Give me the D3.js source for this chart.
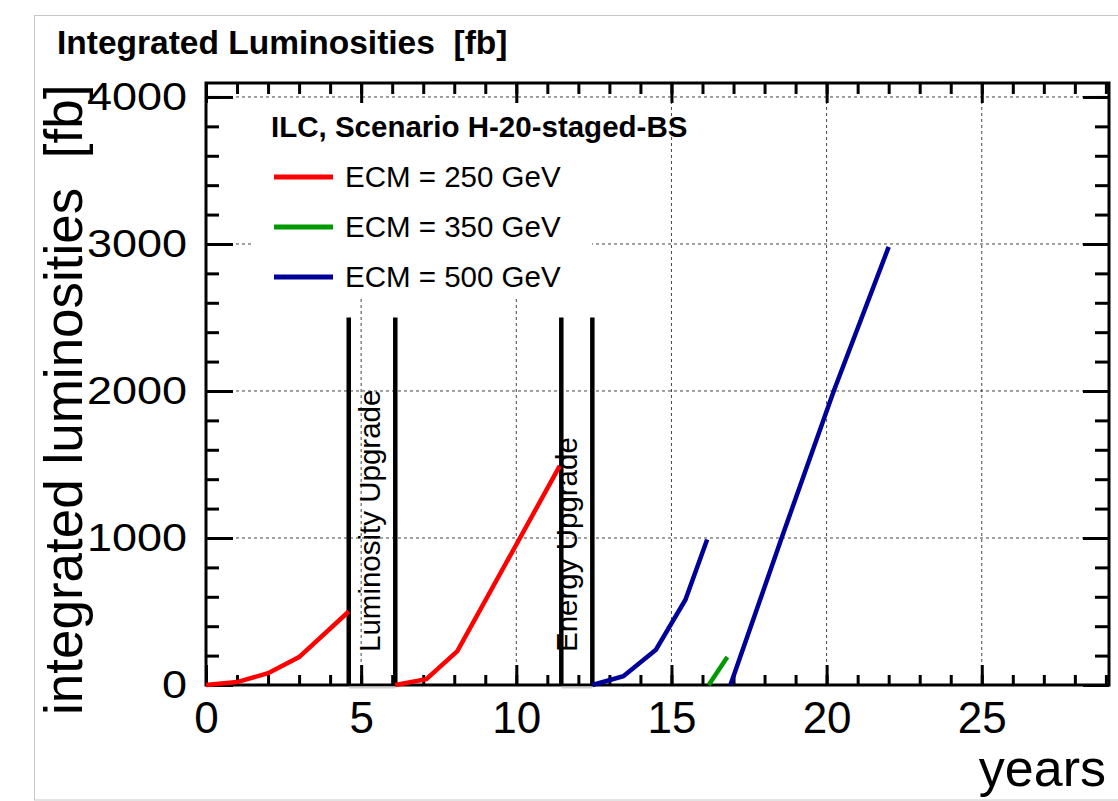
<!DOCTYPE html>
<html>
<head>
<meta charset="utf-8">
<script src="https://cdn.jsdelivr.net/npm/d3@7"></script>
<style>
  body { margin: 0; background: #fff; }
  text { font-family: "Liberation Sans", Arial, sans-serif; white-space: pre; }
</style>
</head>
<body>
<div id="chart"></div>
<script>
// years / integrated luminosity [fb]
const ecm250a = [[0, 0], [1, 20], [2, 80], [3, 190], [4.6, 500]];
const ecm250b = [[6.1, 0], [7.1, 40], [8.1, 230], [11.4, 1490]];
const ecm350 = [[16.2, 0], [16.8, 190]];
const ecm500a = [[12.45, 0], [13.45, 60], [14.5, 240], [15.45, 580], [16.15, 990]];
const ecm500b = [[16.9, 0], [18.55, 1000], [20.23, 2000], [22.0, 2980]];

const upgrades = [
  { label: "Luminosity Upgrade", from: 4.6, to: 6.1, top: 2500 },
  { label: "Energy Upgrade", from: 11.45, to: 12.45, top: 2500 },
];

const legendTitle = "ILC, Scenario H-20-staged-BS";
const legendItems = [
  { label: "ECM = 250 GeV", color: "#ff0000" },
  { label: "ECM = 350 GeV", color: "#009a00" },
  { label: "ECM = 500 GeV", color: "#000099" },
];

const xMajor = [0, 5, 10, 15, 20, 25];
const yMajor = [0, 1000, 2000, 3000, 4000];

const width = 1118, height = 801;
const mLeft = 206, mRight = 1109, mTop = 83, mBottom = 685;

const x = d3.scaleLinear().domain([0, 29.1]).range([mLeft, mRight]);
const y = d3.scaleLinear().domain([0, 4095]).range([mBottom, mTop]);

const svg = d3.select("#chart").append("svg")
  .attr("width", width)
  .attr("height", height);

// outer pad frame
svg.append("rect")
  .attr("x", 34.5).attr("y", 15.5)
  .attr("width", 1100).attr("height", 784.5)
  .attr("fill", "none").attr("stroke", "#c8c8c8");

svg.append("text")
  .attr("x", 57).attr("y", 54)
  .attr("font-size", 33.5).attr("font-weight", "bold")
  .text("Integrated Luminosities  [fb]");

// grid
const grid = svg.append("g")
  .attr("stroke", "#444").attr("stroke-width", 1)
  .attr("stroke-dasharray", "3,3");
grid.selectAll("line.gx").data(xMajor.filter(d => d > 0)).join("line")
  .attr("x1", d => x(d)).attr("x2", d => x(d))
  .attr("y1", mTop).attr("y2", mBottom);
grid.selectAll("line.gy").data(yMajor.filter(d => d > 0)).join("line")
  .attr("y1", d => y(d)).attr("y2", d => y(d))
  .attr("x1", mLeft).attr("x2", mRight);

// legend box (covers grid)
svg.append("rect")
  .attr("x", 252).attr("y", 103)
  .attr("width", 340).attr("height", 196)
  .attr("fill", "#fff");

// axes, ticks pointing inward
function axisTicks(axis, scale, sizeMajor, sizeMinor, minor, labels) {
  const g = svg.append("g");
  g.append("g").call(axis(scale).tickValues(minor).tickSize(sizeMinor).tickFormat(""));
  g.append("g").call(axis(scale).tickValues(labels.values).tickSize(sizeMajor)
    .tickPadding(labels.pad).tickFormat(labels.fmt));
  g.selectAll(".domain").remove();
  g.selectAll("line").attr("stroke", "#000").attr("stroke-width", 3);
  return g;
}

const xMinor = d3.range(0, 30, 1);
const yMinor = d3.range(0, 4100, 200);

const gxb = axisTicks(d3.axisBottom, x, -20, -10, xMinor,
  { values: xMajor, pad: 17, fmt: d3.format("d") });
gxb.attr("transform", `translate(0,${mBottom})`);
gxb.selectAll("text").attr("font-size", 44).attr("fill", "#000")
  .attr("font-family", '"Liberation Sans", Arial, sans-serif');

const gxt = axisTicks(d3.axisTop, x, -20, -11, xMinor,
  { values: xMajor, pad: 0, fmt: () => "" });
gxt.attr("transform", `translate(0,${mTop})`);

const gyl = axisTicks(d3.axisLeft, y, -27, -13, yMinor,
  { values: yMajor, pad: 19, fmt: d3.format("d") });
gyl.attr("transform", `translate(${mLeft},0)`);
gyl.selectAll("text").attr("font-size", 45).attr("fill", "#000")
  .attr("font-family", '"Liberation Sans", Arial, sans-serif')
  .attr("transform", "scale(1,0.85)");

const gyr = axisTicks(d3.axisRight, y, -26, -14, yMinor,
  { values: yMajor, pad: 0, fmt: () => "" });
gyr.attr("transform", `translate(${mRight},0)`);

// frame
svg.append("rect")
  .attr("x", mLeft).attr("y", mTop)
  .attr("width", mRight - mLeft).attr("height", mBottom - mTop)
  .attr("fill", "none").attr("stroke", "#000").attr("stroke-width", 3);

// upgrade markers
const up = svg.append("g");
upgrades.forEach(u => {
  up.append("line")
    .attr("x1", x(u.from)).attr("x2", x(u.to))
    .attr("y1", y(0) + 2.5).attr("y2", y(0) + 2.5)
    .attr("stroke", "#d0d0d0").attr("stroke-width", 2);
  [u.from, u.to].forEach(v => {
    up.append("line")
      .attr("x1", x(v)).attr("x2", x(v))
      .attr("y1", y(u.top)).attr("y2", y(0))
      .attr("stroke", "#000").attr("stroke-width", 4.5);
  });
  up.append("text")
    .attr("transform", `translate(${x(u.to) - 15},${y(0) - 33}) rotate(-90)`)
    .attr("font-size", 29.5)
    .text(u.label);
});

// series
const line = d3.line(d => x(d[0]), d => y(d[1]));
const series = [
  { data: ecm250a, color: legendItems[0].color },
  { data: ecm250b, color: legendItems[0].color },
  { data: ecm500a, color: legendItems[2].color },
  { data: ecm350, color: legendItems[1].color },
  { data: ecm500b, color: legendItems[2].color },
];
svg.append("g").selectAll("path").data(series).join("path")
  .attr("d", d => line(d.data))
  .attr("fill", "none")
  .attr("stroke", d => d.color)
  .attr("stroke-width", 4.5);

// legend
svg.append("text")
  .attr("x", 271).attr("y", 137)
  .attr("font-size", 29.5).attr("font-weight", "bold")
  .text(legendTitle);
const lg = svg.append("g").selectAll("g").data(legendItems).join("g")
  .attr("transform", (d, i) => `translate(0,${177 + i * 50})`);
lg.append("line")
  .attr("x1", 274).attr("x2", 333)
  .attr("stroke", d => d.color).attr("stroke-width", 5);
lg.append("text")
  .attr("x", 345).attr("y", 10)
  .attr("font-size", 29.5)
  .text(d => d.label);

// axis titles
svg.append("text")
  .attr("transform", "translate(82,715) rotate(-90)")
  .attr("font-size", 53)
  .text("integrated luminosities  [fb]");

svg.append("text")
  .attr("x", 1106).attr("y", 786)
  .attr("text-anchor", "end")
  .attr("font-size", 52)
  .text("years");
</script>
</body>
</html>
